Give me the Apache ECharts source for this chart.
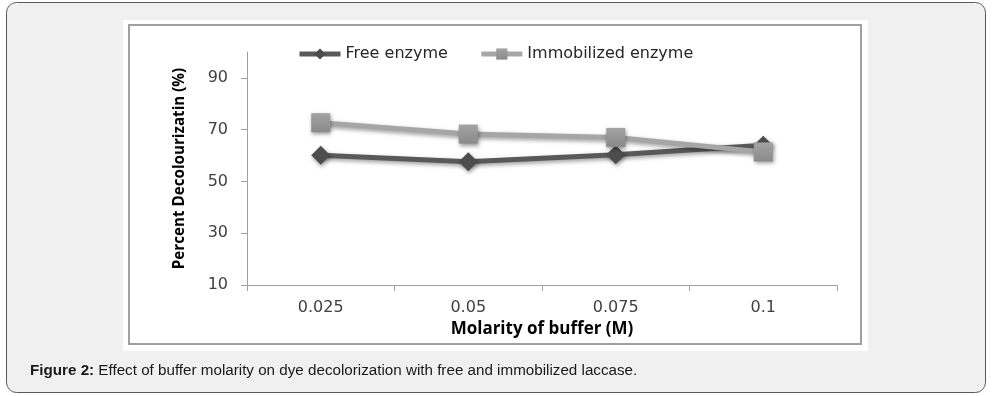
<!DOCTYPE html>
<html>
<head>
<meta charset="utf-8">
<script src="https://cdn.jsdelivr.net/npm/echarts@6/dist/echarts.min.js"></script>
<style>
html,body{margin:0;padding:0;background:#fff;}
#c{width:1002px;height:396px;}
</style>
</head>
<body>
<div id="c"></div>
<script>
const categories = ['0.025', '0.05', '0.075', '0.1'];
const freeEnzyme = [60.1, 57.6, 60.3, 64.0];
const immobilizedEnzyme = [72.7, 68.3, 67.0, 61.4];
const yTicks = [10, 30, 50, 70, 90];
const seriesNames = ['Free enzyme', 'Immobilized enzyme'];
const xTitle = 'Molarity of buffer (M)';
const yTitle = 'Percent Decolourizatin (%)';
const captionBold = 'Figure 2:';
const captionText = ' Effect of buffer molarity on dye decolorization with free and immobilized laccase.';

const chart = echarts.init(document.getElementById('c'), null, {renderer: 'canvas'});
const shadow = {shadowBlur: 4, shadowColor: 'rgba(0,0,0,0.4)', shadowOffsetX: 1, shadowOffsetY: 2};
chart.setOption({
  animation: false,
  graphic: [
    {type: 'rect', z: -10, shape: {x: 6.5, y: 2.5, width: 979, height: 390, r: 10},
     style: {fill: '#f0f0f0', stroke: '#5a5a5a', lineWidth: 1}},
    {type: 'rect', z: -9, shape: {x: 123, y: 20, width: 745, height: 331},
     style: {fill: '#ffffff'}},
    {type: 'rect', z: -8, shape: {x: 129, y: 25, width: 732, height: 319},
     style: {fill: 'none', stroke: '#a0a0a0', lineWidth: 2}},
    {type: 'text', z: 5, x: 30, y: 371,
     style: {
       text: '{b|' + captionBold + '}{n|' + captionText + '}',
       verticalAlign: 'middle',
       rich: {
         b: {fontFamily: 'Liberation Sans', fontSize: 15.2, fontWeight: 'bold', fill: '#1a1a1a'},
         n: {fontFamily: 'Liberation Sans', fontSize: 15.2, fill: '#1a1a1a'}
       }
     }}
  ],
  legend: {
    left: 297, top: 46, padding: 0,
    itemWidth: 41, itemHeight: 14, itemGap: 31,
    lineStyle: {width: 5},
    textStyle: {fontFamily: 'DejaVu Sans', fontSize: 16, color: '#262626'},
    data: seriesNames
  },
  grid: {left: 247, right: 165, top: 52, bottom: 111},
  xAxis: {
    type: 'category',
    data: categories,
    boundaryGap: true,
    axisLine: {lineStyle: {color: '#a0a0a0', width: 1}},
    axisTick: {show: true, length: 6, lineStyle: {color: '#a0a0a0'}},
    axisLabel: {fontFamily: 'DejaVu Sans', fontSize: 16, color: '#404040', margin: 15},
    name: xTitle,
    nameLocation: 'middle',
    nameGap: 35,
    nameTextStyle: {fontFamily: 'Open Sans', fontWeight: 'bold', fontSize: 17, color: '#000'}
  },
  yAxis: {
    type: 'value',
    min: 10, max: 100,
    axisLine: {show: true, lineStyle: {color: '#a0a0a0', width: 1}},
    axisTick: {show: true, length: 6, customValues: yTicks, lineStyle: {color: '#a0a0a0'}},
    axisLabel: {fontFamily: 'DejaVu Sans', fontSize: 16, color: '#404040', margin: 19, customValues: yTicks},
    splitLine: {show: false},
    name: yTitle,
    nameLocation: 'middle',
    nameGap: 60,
    nameTextStyle: {fontFamily: 'Open Sans', fontWeight: 'bold', fontSize: 15.2, color: '#000'}
  },
  series: [
    {
      name: seriesNames[0], type: 'line', data: freeEnzyme,
      symbol: 'diamond', symbolSize: 19,
      lineStyle: Object.assign({color: '#595959', width: 5}, shadow),
      itemStyle: Object.assign({color: '#4d4d4d'}, shadow)
    },
    {
      name: seriesNames[1], type: 'line', data: immobilizedEnzyme,
      symbol: 'rect', symbolSize: 19,
      lineStyle: Object.assign({color: '#a6a6a6', width: 5}, shadow),
      itemStyle: Object.assign({
        color: new echarts.graphic.LinearGradient(0, 0, 0, 1, [
          {offset: 0, color: '#a3a3a3'}, {offset: 1, color: '#8a8a8a'}
        ])
      }, shadow)
    }
  ]
});
</script>
</body>
</html>
